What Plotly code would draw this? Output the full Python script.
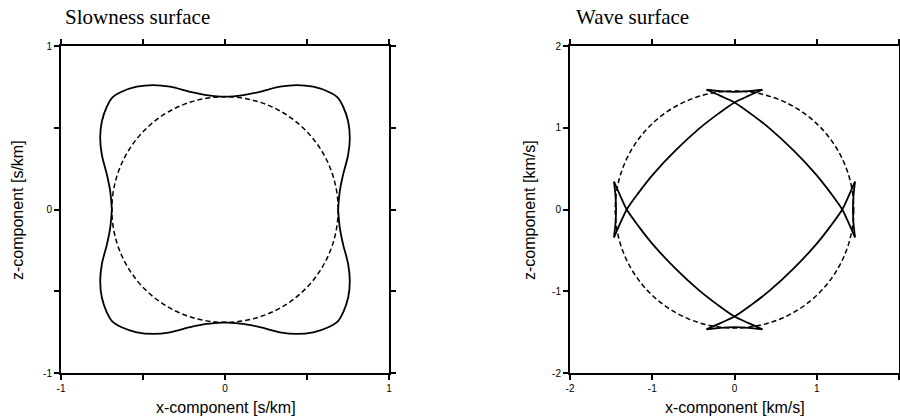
import plotly.graph_objects as go

# ---- slowness surface (s/km): first quadrant, from the z axis round to the x axis
slow_x = [0.000, 0.112, 0.213, 0.335, 0.437, 0.538, 0.630, 0.686, 0.720, 0.751, 0.761, 0.751, 0.720, 0.700, 0.690]
slow_z = [0.690, 0.700, 0.720, 0.751, 0.761, 0.751, 0.720, 0.686, 0.630, 0.538, 0.437, 0.335, 0.213, 0.112, 0.000]
slow_circle_r = 0.69  # isotropic reference (dashed)

# ---- wave surface (km/s)
# one branch, running from the upper-left cusp tip to the lower-right cusp tip
arc_x = [-0.340, -0.170, 0.000, 0.200, 0.430, 0.720, 0.990, 1.170, 1.310, 1.390, 1.465]
arc_z = [1.465, 1.390, 1.310, 1.170, 0.990, 0.720, 0.430, 0.200, 0.000, -0.170, -0.340]
# short segment joining the two cusp tips above the z axis
cusp_x = [-0.340, -0.170, 0.000, 0.170, 0.340]
cusp_z = [1.465, 1.447, 1.440, 1.447, 1.465]
wave_circle_r = 1.45

# axis ticks
slow_tickvals = [-1, -0.5, 0, 0.5, 1]
slow_ticktext = ["-1", "", "0", "", "1"]
wave_tickvals = [-2, -1, 0, 1, 2]
wave_ticktext = ["-2", "-1", "0", "1", "2"]


def closed_quadrants(qx, qz):
    """Reflect a first-quadrant curve into the other three quadrants."""
    xs, zs = list(qx), list(qz)
    xs += [x for x in reversed(qx)]
    zs += [-z for z in reversed(qz)]
    xs += [-x for x in qx]
    zs += [-z for z in qz]
    xs += [-x for x in reversed(qx)]
    zs += [z for z in reversed(qz)]
    return xs, zs


def joined_segments(segments):
    xs, zs = [], []
    for sx, sz in segments:
        xs += sx + [None]
        zs += sz + [None]
    return xs, zs


sx, sz = closed_quadrants(slow_x, slow_z)

branches = []
for fx in (1, -1):
    for fz in (1, -1):
        branches.append(([fx * v for v in arc_x], [fz * v for v in arc_z]))
# cusp segments on all four axes (top, bottom, right, left)
branches.append((list(cusp_x), list(cusp_z)))
branches.append((list(cusp_x), [-v for v in cusp_z]))
branches.append((list(cusp_z), list(cusp_x)))
branches.append(([-v for v in cusp_z], list(cusp_x)))
wx, wz = joined_segments(branches)

fig = go.Figure()
fig.add_trace(go.Scatter(x=sx, y=sz, mode="lines", xaxis="x", yaxis="y",
                         line=dict(color="black", width=1.8, shape="spline", smoothing=1),
                         hoverinfo="skip", showlegend=False))
fig.add_trace(go.Scatter(x=wx, y=wz, mode="lines", xaxis="x2", yaxis="y2",
                         line=dict(color="black", width=1.8, shape="spline", smoothing=0.8),
                         connectgaps=False, hoverinfo="skip", showlegend=False))

dash = "5px,3px"
fig.add_shape(type="circle", xref="x", yref="y",
              x0=-slow_circle_r, x1=slow_circle_r, y0=-slow_circle_r, y1=slow_circle_r,
              line=dict(color="black", width=1.5, dash=dash))
fig.add_shape(type="circle", xref="x2", yref="y2",
              x0=-wave_circle_r, x1=wave_circle_r, y0=-wave_circle_r, y1=wave_circle_r,
              line=dict(color="black", width=1.5, dash=dash))

W, H = 900, 418
tickfont = dict(family="Liberation Sans, Arial, sans-serif", size=10, color="black")
axis_common = dict(showline=True, linecolor="black", linewidth=2, mirror="ticks",
                   ticks="outside", ticklen=5, tickwidth=1.5, tickcolor="black",
                   showgrid=False, zeroline=False, tickfont=tickfont, automargin=False,
                   fixedrange=True)

ydom = [1 - 373 / H, 1 - 46 / H]
fig.update_layout(
    width=W, height=H, margin=dict(l=0, r=0, t=0, b=0),
    paper_bgcolor="white", plot_bgcolor="white",
    xaxis=dict(domain=[61 / W, 389 / W], range=[-1, 1], anchor="y",
               tickvals=slow_tickvals, ticktext=slow_ticktext, **axis_common),
    yaxis=dict(domain=ydom, range=[-1, 1], anchor="x",
               tickvals=slow_tickvals, ticktext=slow_ticktext, **axis_common),
    xaxis2=dict(domain=[570 / W, 899 / W], range=[-2, 2], anchor="y2",
                tickvals=wave_tickvals, ticktext=wave_ticktext, **axis_common),
    yaxis2=dict(domain=ydom, range=[-2, 2], anchor="x2",
                tickvals=wave_tickvals, ticktext=wave_ticktext, **axis_common),
)

label_font = dict(family="Liberation Sans, Arial, sans-serif", size=16, color="black")
title_font = dict(family="Liberation Serif, Times New Roman, serif", size=21, color="black")


def px_x(p):
    return p / W


def px_y(p):
    return 1 - p / H


annotations = [
    # panel titles
    dict(text="Slowness surface", x=px_x(63), y=px_y(31), xanchor="left", yanchor="bottom", font=title_font),
    dict(text="Wave surface", x=px_x(574), y=px_y(31), xanchor="left", yanchor="bottom", font=title_font),
    # axis titles
    dict(text="x-component [s/km]", x=px_x(226), y=px_y(418), xanchor="center", yanchor="bottom", font=label_font),
    dict(text="x-component [km/s]", x=px_x(735), y=px_y(418), xanchor="center", yanchor="bottom", font=label_font),
    dict(text="z-component [s/km]", x=px_x(18), y=px_y(210), xanchor="center", yanchor="middle",
         textangle=-90, font=label_font),
    dict(text="z-component [km/s]", x=px_x(530), y=px_y(210), xanchor="center", yanchor="middle",
         textangle=-90, font=label_font),
]
for a in annotations:
    a.update(xref="paper", yref="paper", showarrow=False)
fig.update_layout(annotations=annotations)

fig.write_html("out.html")
